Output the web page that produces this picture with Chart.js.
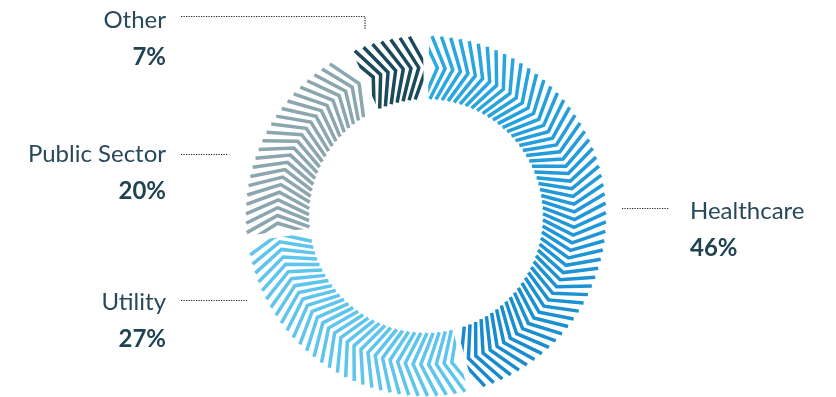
<!DOCTYPE html>
<html>
<head>
<meta charset="utf-8">
<script src="https://cdn.jsdelivr.net/npm/chart.js@4/dist/chart.umd.min.js"></script>
<style>
  html, body { margin: 0; padding: 0; background: #fff; }
  canvas { display: block; }
</style>
</head>
<body>
<canvas id="sectorChart" width="836" height="397"></canvas>
<script>
// values
const categories = ["Healthcare", "Utility", "Public Sector", "Other"];
const shares = [46, 27, 20, 7];
const percentLabels = ["46%", "27%", "20%", "7%"];

// stripe colours per segment (start, end)
const segColors = [
  ["#2ca9e1", "#1789cd"],
  ["#5fc5ec", "#5fc5ec"],
  ["#8ca6b0", "#8ca6b0"],
  ["#1a4a5c", "#1a4a5c"],
];

// label placement (name baseline, percent baseline, x, align) and leader lines
const labelLayout = [
  { x: 690, nameY: 219, pctY: 256, align: "left", line: [[622, 208], [669, 208]] },
  { x: 166, nameY: 310, pctY: 347, align: "right", line: [[181, 300], [247, 300]] },
  { x: 166, nameY: 162, pctY: 199, align: "right", line: [[181, 154], [228, 154]] },
  { x: 166, nameY: 28, pctY: 65, align: "right", line: [[181, 16], [365, 16], [365, 29]] },
];

function mix(c1, c2, t) {
  const a = parseInt(c1.slice(1), 16), b = parseInt(c2.slice(1), 16);
  const r = Math.round(((a >> 16) & 255) * (1 - t) + ((b >> 16) & 255) * t);
  const g = Math.round(((a >> 8) & 255) * (1 - t) + ((b >> 8) & 255) * t);
  const bl = Math.round((a & 255) * (1 - t) + (b & 255) * t);
  return `rgb(${r},${g},${bl})`;
}

// draws chevron stripes inside each arc that Chart.js laid out
const chevronPlugin = {
  id: "chevrons",
  afterDatasetsDraw(chart) {
    const ctx = chart.ctx;
    const meta = chart.getDatasetMeta(0);
    const step = (3 * Math.PI) / 180;
    const delta = (5.5 * Math.PI) / 180;
    const gap = (1 * Math.PI) / 180;

    meta.data.forEach((arc, i) => {
      const { x, y, startAngle, endAngle, innerRadius, outerRadius } = arc.getProps(
        ["x", "y", "startAngle", "endAngle", "innerRadius", "outerRadius"],
        true
      );
      const midR = (innerRadius + outerRadius) / 2;

      ctx.save();
      ctx.beginPath();
      ctx.moveTo(x, y);
      ctx.arc(x, y, outerRadius + 20, startAngle + gap, endAngle - gap);
      ctx.closePath();
      ctx.clip();

      ctx.lineWidth = 3.5;
      ctx.lineCap = "butt";
      ctx.lineJoin = "miter";

      const first = startAngle + delta * 0.8;
      const last = endAngle + delta * 0.2;
      const n = Math.max(1, Math.floor((last - first) / step));
      for (let k = 0; k <= n; k++) {
        const a = first + k * step;
        const b = a - delta;
        ctx.strokeStyle = mix(segColors[i][0], segColors[i][1], k / n);
        ctx.beginPath();
        ctx.moveTo(x + Math.cos(b) * outerRadius, y + Math.sin(b) * outerRadius);
        ctx.lineTo(x + Math.cos(a) * midR, y + Math.sin(a) * midR);
        ctx.lineTo(x + Math.cos(b) * innerRadius, y + Math.sin(b) * innerRadius);
        ctx.stroke();
      }
      ctx.restore();
    });
  },
};

// outside labels with dotted leaders
const labelPlugin = {
  id: "sideLabels",
  afterDraw(chart) {
    const ctx = chart.ctx;
    ctx.save();
    labelLayout.forEach((l, i) => {
      ctx.textAlign = l.align;
      ctx.textBaseline = "alphabetic";
      ctx.fillStyle = "#28495a";
      ctx.font = "24px Lato";
      ctx.fillText(categories[i], l.x, l.nameY);
      ctx.fillStyle = "#1f4353";
      ctx.font = "bold 24px Lato";
      ctx.fillText(percentLabels[i], l.x, l.pctY);

      ctx.strokeStyle = "#222";
      ctx.lineWidth = 1.2;
      ctx.setLineDash([1.2, 1.3]);
      ctx.beginPath();
      l.line.forEach((p, j) => (j ? ctx.lineTo(p[0], p[1] + 0.5) : ctx.moveTo(p[0], p[1] + 0.5)));
      ctx.stroke();
      ctx.setLineDash([]);
    });
    ctx.restore();
  },
};

new Chart(document.getElementById("sectorChart"), {
  type: "doughnut",
  data: {
    labels: categories,
    datasets: [
      {
        data: shares,
        backgroundColor: "rgba(0,0,0,0)",
        borderWidth: 0,
      },
    ],
  },
  options: {
    responsive: false,
    animation: false,
    cutout: "65%",
    layout: { padding: { left: 246, right: 230, top: 36, bottom: 1 } },
    plugins: { legend: { display: false }, tooltip: { enabled: false } },
  },
  plugins: [chevronPlugin, labelPlugin],
});
</script>
</body>
</html>
